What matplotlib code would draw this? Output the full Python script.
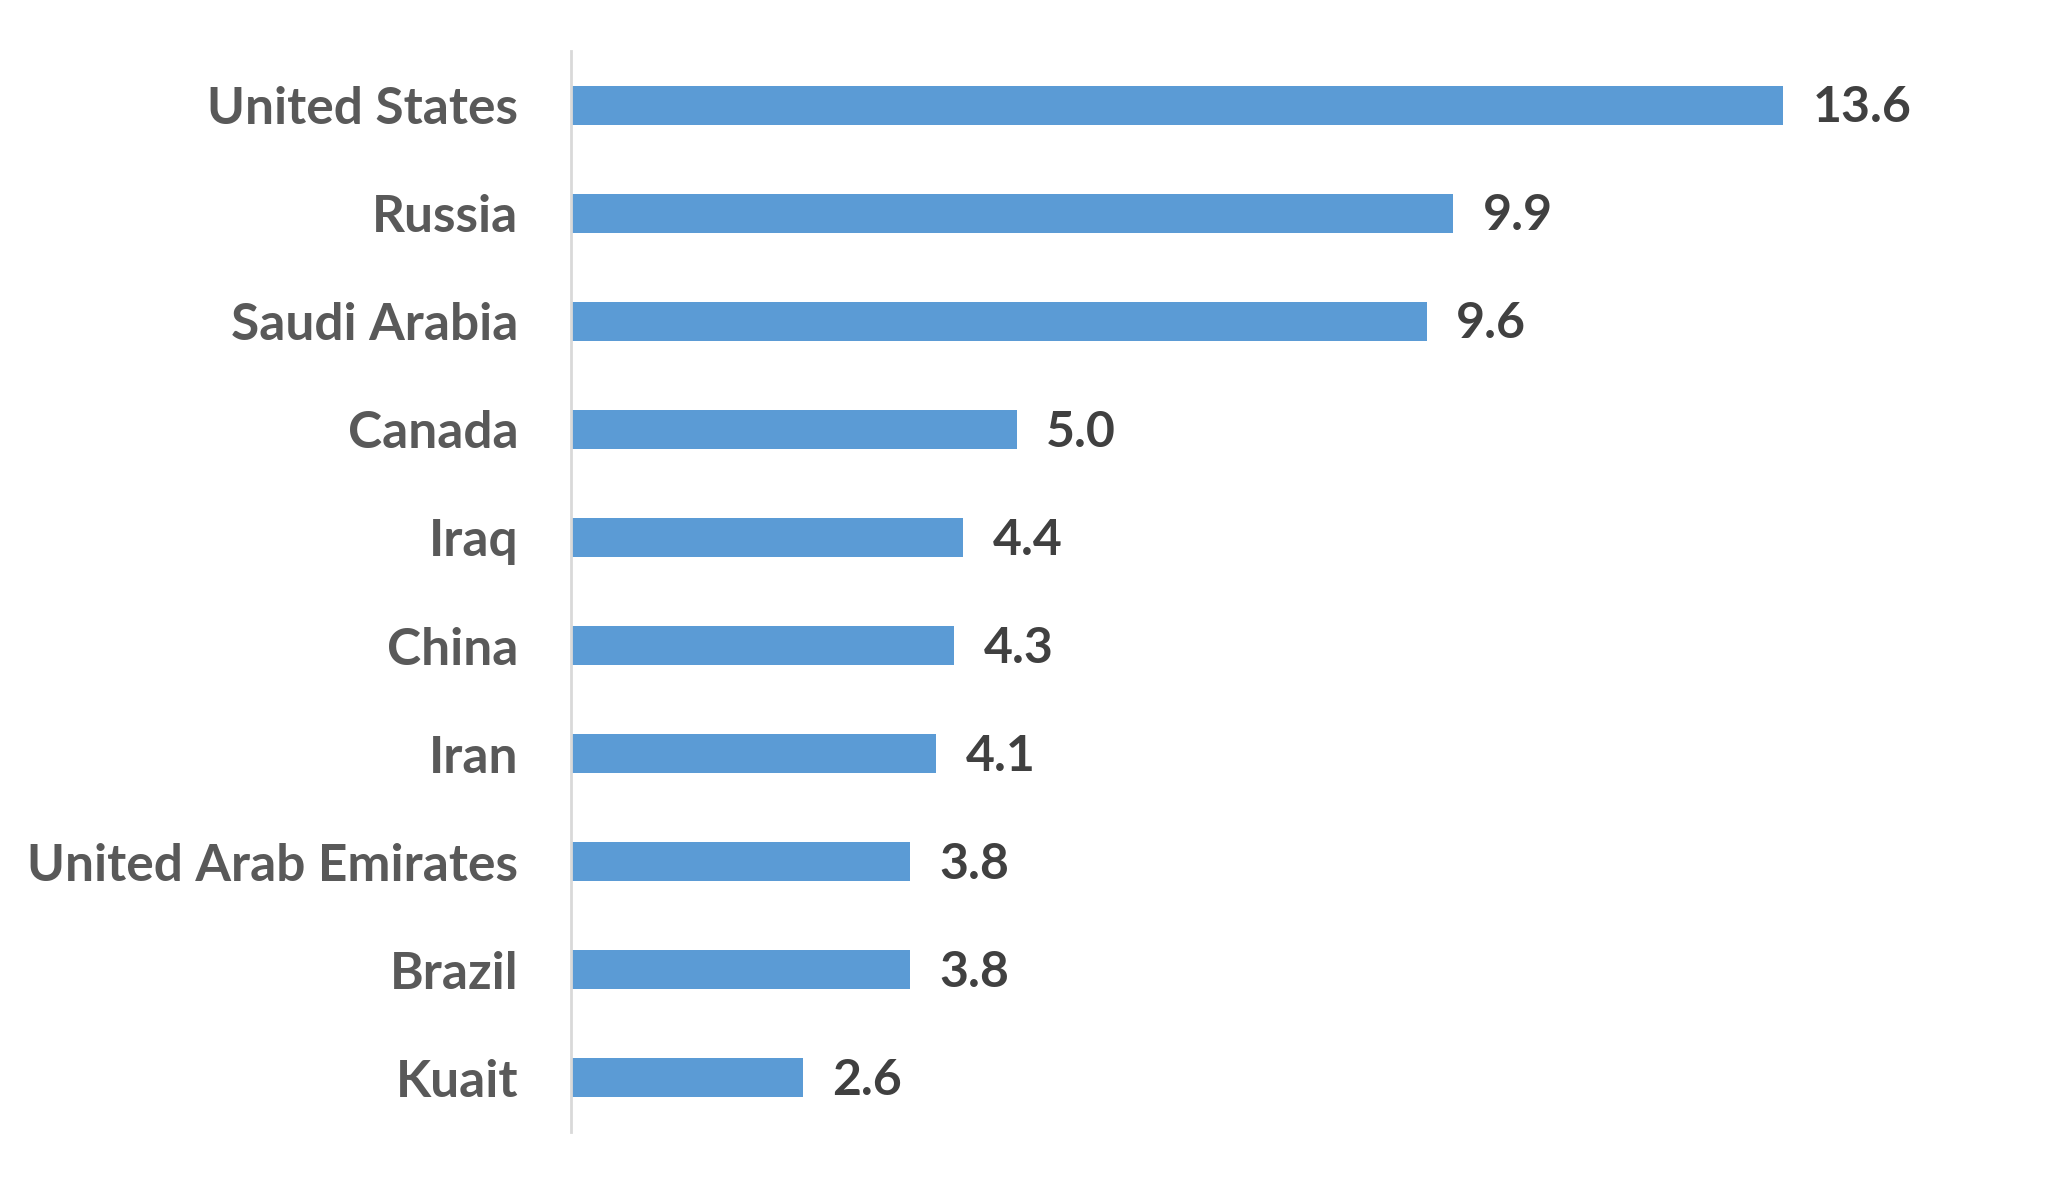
import matplotlib.pyplot as plt
import numpy as np

countries = ["United States", "Russia", "Saudi Arabia", "Canada", "Iraq",
             "China", "Iran", "United Arab Emirates", "Brazil", "Kuait"]
values = [13.6, 9.9, 9.6, 5.0, 4.4, 4.3, 4.1, 3.8, 3.8, 2.6]

plt.rcParams['font.family'] = ['Lato', 'DejaVu Sans']

fig = plt.figure(figsize=(20.5, 11.82), dpi=100)
ax = fig.add_axes([571 / 2050, 50 / 1182, 1426 / 2050, 1081 / 1182])

y = np.arange(len(countries))
ax.barh(y, values, height=0.36, color='#5B9BD5')

# small downward nudge so the digits sit centred on the bar
for yi, v in zip(y, values):
	ax.text(v + 0.33, yi + 0.025, "%.1f" % v, va='center', ha='left',
			fontsize=36, fontweight='bold', color='#404040')

ax.set_xlim(0, 16)
ax.set_ylim(-0.5, len(countries) - 0.5)
ax.invert_yaxis()
ax.set_yticks(y)
ax.set_yticklabels(countries, fontsize=37, fontweight='bold', color='#595959')
ax.tick_params(axis='y', length=0, pad=38)
ax.set_xticks([])

for s in ['top', 'right', 'bottom']:
	ax.spines[s].set_visible(False)
ax.spines['left'].set_color('#D9D9D9')
ax.spines['left'].set_linewidth(2)

fig.savefig("out.png", dpi=100)
